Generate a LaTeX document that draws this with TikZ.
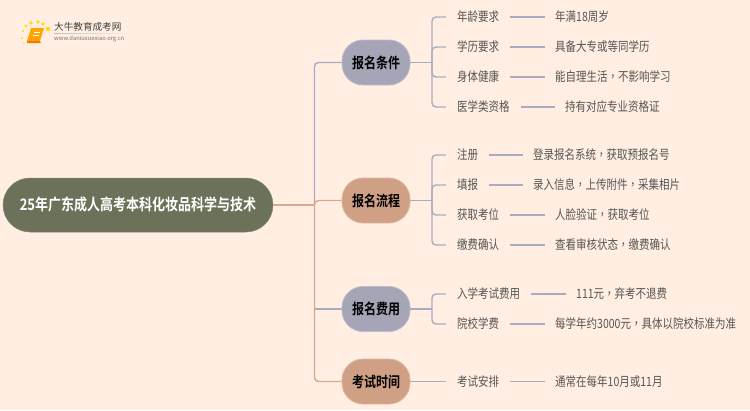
\documentclass[tikz,border=0pt]{standalone}
\usepackage{graphicx}
\usepackage{fontspec}
\setmainfont{Noto Sans CJK SC}[BoldFont={Noto Sans CJK SC Bold}]
\newfontfamily\tcfont{Noto Sans CJK TC}
\newcommand{\tall}[1]{\scalebox{1}[1.22]{#1}}
\newcommand{\zc}{{\tcfont ，}}
\usetikzlibrary{calc}
\definecolor{bg}{HTML}{FFEEE1}
\definecolor{bluel}{HTML}{A9ABC2}
\definecolor{brownl}{HTML}{DBA78D}
\definecolor{bluef}{HTML}{A5A5B7}
\definecolor{brownf}{HTML}{D0A085}
\definecolor{rootf}{HTML}{6B7259}
\definecolor{leaft}{HTML}{555555}
\tikzset{
  rootbox/.style={draw=rootf!85!white,line width=.5pt,fill=rootf,rounded corners=27,minimum width=270pt,minimum height=54pt,inner sep=0pt,text=white,font=\fontsize{13}{13}\selectfont\bfseries},
  branchbox/.style={line width=.8pt,rounded corners=21,minimum width=68pt,minimum height=45pt,inner sep=0pt,text=black,font=\fontsize{12}{12}\selectfont\bfseries},
  bluebox/.style={branchbox,fill=bluef,draw=bluef!75!white},
  brownbox/.style={branchbox,fill=brownf,draw=brownf!75!white},
  leaftext/.style={anchor=west,inner sep=0pt,text=leaft,text height=10.5pt,text depth=.9pt,font=\fontsize{10.5}{10.5}\selectfont},
  trunk/.style={line width=1.4pt,rounded corners=4},
  twig/.style={trunk,draw=bluel,shorten >=11pt},
  link/.style={line width=1.5pt,draw=bluel,shorten <=11pt,shorten >=10pt}
}
\begin{document}
\begin{tikzpicture}[x=1pt,y=-1pt]
\useasboundingbox (0,0) rectangle (750,410);
\fill[bg] (0,0) rectangle (750,410);
% logo
\foreach \px/\py/\r in {26/26/1.7,31/23/1.8,38/22/1.9,43/24/1.9,48/29/2.2,23/31/1.2,22/38/1,24/43/.8}
  \fill[yellow!80!orange] (\px,\py) circle (\r);
\fill[orange!70!yellow] (31,28) -- (44,28) -- (40,41) -- (27,41) -- cycle;
\fill[orange!90!red] (27,41) -- (40,41) -- (41,43) -- (27,43) -- cycle;
\draw[white,line width=.7pt] (34,32) -- (40,32) (33,35) -- (39,35);
\node[anchor=west,inner sep=0pt,text=black!75,font=\fontsize{9.6}{9.6}\selectfont] (logoa) at (54,27) {大牛教育成考网};
\node[anchor=west,inner sep=0pt,text=black!55,font=\fontsize{5.8}{5.8}\selectfont] (logob) at (54,39) {www.daniuxuexiao.org.cn};
\shade[left color=black!25,right color=bg] (54,33) rectangle (130,33.8);
% nodes
\node[rootbox] (root) at (138,205) {\tall{25年广东成人高考本科化妆品科学与技术}};
\node[bluebox] (b1) at (376,62.5) {\tall{报名条件}};
\node[brownbox] (b2) at (376,200.5) {\tall{报名流程}};
\node[bluebox] (b3) at (376,309) {\tall{报名费用}};
\node[brownbox] (b4) at (376,381.5) {\tall{考试时间}};
\coordinate (t) at (314.5,205);
\coordinate (f1) at (432,62.5);
\coordinate (f2) at (432,200.5);
\coordinate (f3) at (432,309);
\foreach \n/\yy/\a/\vx/\v in {
  a1/17/年龄要求/555/年满18周岁,
  a2/47/学历要求/555/具备大专或等同学历,
  a3/77/身体健康/555/能自理生活\zc 不影响学习,
  a4/107/医学类资格/565/持有对应专业资格证,
  c1/155/注册/533/登录报名系统\zc 获取预报名号,
  c2/185/填报/533/录入信息\zc 上传附件\zc 采集相片,
  c3/215/获取考位/555/人脸验证\zc 获取考位,
  c4/245/缴费确认/555/查看审核状态\zc 缴费确认,
  d1/294/入学考试费用/576/111元\zc 弃考不退费,
  d2/324/院校学费/555/每学年约3000元\zc 具体以院校标准为准,
  e1/381.5/考试安排/555/通常在每年10月或11月}{
  \node[leaftext] (\n) at (457,\yy) {\tall{\a}};
  \node[leaftext] (v\n) at (\vx,\yy) {\tall{\v}};
  \draw[link] (\n.east) -- (v\n.west);
}
% trunk
\draw[trunk,draw=bluel] (t) |- (b1.west);
\draw[trunk,draw=bluel] (t |- b3.west) -- (b3.west);
\draw[trunk,draw=brownl] (t) |- (b4.west);
\draw[trunk,draw=brownl] (root.east) -- (t);
\draw[trunk,draw=brownl] (t) |- (b2.west);
% twigs
\draw[trunk,draw=bluel] (b1.east) -- (f1);
\draw[trunk,draw=bluel] (b2.east) -- (f2);
\draw[trunk,draw=bluel] (b3.east) -- (f3);
\draw[twig] (f1) |- (a1.west);
\draw[twig] (f1) |- (a2.west);
\draw[twig] (f1) |- (a3.west);
\draw[twig] (f1) |- (a4.west);
\draw[twig] (f2) |- (c1.west);
\draw[twig] (f2) |- (c2.west);
\draw[twig] (f2) |- (c3.west);
\draw[twig] (f2) |- (c4.west);
\draw[twig] (f3) |- (d1.west);
\draw[twig] (f3) |- (d2.west);
\draw[twig] (b4.east) -- (e1.west);
\end{tikzpicture}
\end{document}
